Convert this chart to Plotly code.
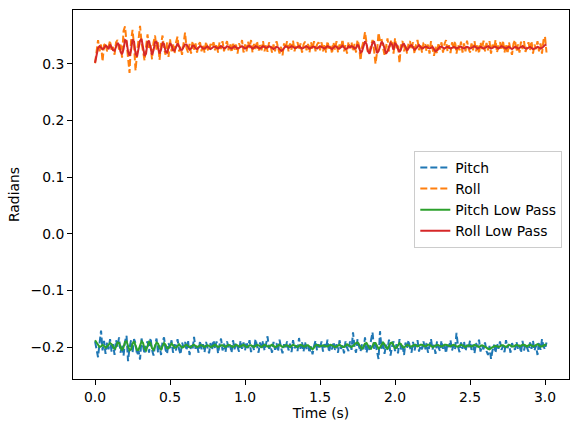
import numpy as np
import plotly.graph_objects as go

# sample period of the logged IMU data (s)
DT = 0.01

# all angles below in milliradians
pitch_raw = [
    -190, -205, -218, -193, -171, -206, -189, -212, -192, -204,
    -186, -208, -195, -214, -188, -199, -183, -210, -196, -215,
    -190, -180, -225, -201, -188, -210, -186, -193, -214, -207,
    -222, -185, -200, -212, -195, -190, -210, -184, -205, -215,
    -198, -185, -210, -197, -214, -190, -183, -205, -212, -193,
    -202, -188, -210, -195, -206, -186, -204, -213, -192, -200,
    -191, -206, -188, -214, -197, -205, -182, -203, -196, -210,
    -189, -204, -195, -209, -191, -200, -211, -193, -205, -188,
    -203, -190, -211, -196, -185, -206, -194, -209, -190, -202,
    -196, -210, -188, -204, -193, -200, -208, -189, -203, -192,
    -206, -191, -202, -188, -209, -197, -205, -186, -201, -210,
    -192, -204, -189, -206, -195, -181, -203, -198, -210, -191,
    -205, -193, -208, -187, -201, -211, -195, -203, -190, -206,
    -194, -209, -188, -202, -197, -207, -184, -203, -192, -208,
    -191, -204, -197, -210, -199, -213, -198, -189, -206, -195,
    -203, -190, -208, -195, -202, -187, -209, -196, -204, -191,
    -205, -195, -210, -188, -203, -197, -211, -190, -201, -207,
    -190, -205, -174, -200, -210, -186, -199, -208, -195, -204,
    -183, -210, -197, -205, -188, -174, -203, -195, -208, -221,
    -172, -203, -190, -212, -196, -204, -187, -215, -199, -190,
    -207, -195, -211, -186, -204, -197, -214, -192, -203, -188,
    -201, -210, -191, -206, -195, -188, -208, -197, -204, -190,
    -205, -193, -210, -198, -186, -204, -196, -212, -190, -201,
    -207, -189, -203, -196, -211, -193, -200, -188, -206, -197,
    -204, -175, -199, -209, -192, -203, -190, -207, -196, -202,
    -189, -205, -196, -211, -193, -200, -187, -208, -197, -204,
    -192, -207, -214, -198, -221, -206, -196, -210, -193, -203,
    -190, -205, -198, -209, -188, -202, -195, -210, -193, -200,
    -205, -191, -203, -196, -210, -189, -206, -194, -201, -208,
    -192, -203, -189, -206, -197, -214, -191, -205, -186, -199,
    -204, -192,
]

roll_raw = [
    301, 325, 342, 322, 334, 304, 333, 337, 322, 330,
    341, 322, 330, 316, 338, 342, 325, 334, 311, 358,
    366, 338, 310, 284, 340, 360, 332, 288, 318, 345,
    367, 338, 318, 306, 330, 352, 326, 333, 308, 338,
    350, 325, 338, 307, 335, 350, 327, 316, 338, 312,
    344, 322, 335, 318, 338, 348, 322, 330, 316, 340,
    355, 328, 320, 335, 318, 340, 325, 336, 320, 334,
    338, 322, 334, 320, 339, 326, 322, 335, 330, 338,
    324, 335, 320, 338, 326, 340, 322, 333, 340, 324,
    336, 320, 338, 325, 334, 318, 336, 329, 342, 320,
    334, 322, 339, 328, 342, 320, 335, 326, 340, 322,
    333, 324, 340, 322, 335, 321, 338, 332, 320, 334,
    322, 340, 326, 318, 330, 315, 336, 326, 340, 322,
    336, 325, 341, 322, 333, 338, 324, 336, 320, 334,
    339, 324, 335, 320, 338, 326, 340, 322, 334, 338,
    324, 338, 322, 335, 320, 340, 327, 333, 318, 338,
    325, 340, 320, 334, 327, 343, 322, 333, 318, 339,
    328, 338, 322, 335, 320, 342, 332, 306, 330, 340,
    356, 333, 318, 322, 335, 342, 325, 300, 320, 355,
    340, 344, 328, 316, 330, 345, 322, 338, 342, 318,
    345, 327, 332, 301, 336, 340, 322, 334, 318, 336,
    340, 325, 338, 318, 334, 342, 324, 335, 320, 337,
    338, 322, 334, 318, 340, 326, 314, 330, 318, 337,
    325, 338, 320, 335, 342, 322, 333, 319, 338, 326,
    340, 318, 334, 324, 339, 320, 336, 322, 341, 327,
    320, 336, 324, 340, 322, 335, 318, 338, 326, 341,
    322, 337, 324, 340, 318, 334, 326, 342, 320, 333,
    338, 324, 341, 320, 335, 318, 338, 325, 316, 336,
    342, 322, 334, 320, 339, 326, 340, 321, 331, 338,
    324, 340, 318, 334, 326, 340, 322, 336, 318, 342,
    348, 320,
]

pitch_lp = [
    -188, -192, -197, -200, -199, -196, -198, -201, -199, -196,
    -193, -195, -201, -204, -199, -192, -193, -201, -206, -200,
    -191, -190, -199, -206, -204, -194, -190, -196, -205, -205,
    -196, -190, -193, -203, -206, -199, -191, -193, -202, -205,
    -199, -192, -194, -201, -204, -198, -193, -196, -202, -202,
    -197, -194, -197, -201, -201, -197, -195, -198, -201, -200,
    -197, -196, -198, -200, -200, -197, -196, -198, -200, -199,
    -197, -197, -199, -200, -198, -197, -198, -200, -199, -197,
    -196, -198, -200, -199, -197, -197, -199, -200, -198, -196,
    -197, -199, -200, -198, -196, -197, -199, -199, -197, -196,
    -198, -200, -199, -197, -197, -199, -200, -198, -196, -197,
    -199, -200, -198, -196, -197, -199, -199, -197, -196, -198,
    -200, -199, -197, -196, -198, -200, -199, -197, -197, -199,
    -200, -198, -196, -197, -199, -200, -198, -196, -197, -199,
    -199, -197, -197, -200, -202, -204, -201, -197, -196, -198,
    -199, -198, -197, -198, -199, -199, -197, -196, -197, -199,
    -200, -199, -197, -196, -198, -200, -200, -197, -195, -197,
    -199, -200, -198, -195, -193, -192, -196, -201, -203, -199,
    -194, -193, -197, -202, -203, -198, -193, -193, -199, -203,
    -201, -195, -192, -195, -201, -203, -199, -193, -192, -197,
    -202, -201, -196, -193, -195, -200, -201, -198, -196, -197,
    -199, -199, -197, -196, -197, -199, -198, -196, -196, -198,
    -199, -198, -196, -196, -198, -200, -199, -197, -196, -197,
    -198, -199, -198, -196, -196, -197, -199, -199, -197, -196,
    -197, -199, -199, -197, -196, -197, -199, -200, -198, -197,
    -198, -199, -198, -196, -197, -199, -200, -198, -197, -198,
    -199, -201, -203, -204, -202, -200, -199, -198, -199, -200,
    -199, -197, -197, -199, -200, -198, -196, -197, -199, -199,
    -197, -196, -197, -199, -198, -196, -196, -198, -199, -197,
    -196, -197, -199, -198, -196, -195, -197, -199, -199, -197,
    -196, -196,
]

roll_lp = [
    302, 318, 328, 331, 329, 326, 328, 332, 330, 326,
    334, 330, 324, 323, 329, 337, 333, 321, 317, 326,
    342, 340, 322, 314, 324, 343, 339, 318, 313, 326,
    341, 344, 328, 314, 318, 338, 341, 325, 316, 324,
    338, 339, 326, 318, 325, 337, 335, 322, 320, 329,
    336, 333, 324, 323, 330, 336, 331, 325, 325, 330,
    334, 334, 328, 325, 327, 332, 332, 327, 326, 329,
    331, 330, 327, 327, 330, 331, 328, 326, 328, 330,
    330, 328, 327, 329, 331, 330, 327, 328, 331, 330,
    328, 327, 329, 331, 329, 327, 328, 330, 331, 329,
    327, 328, 331, 332, 329, 327, 328, 331, 330, 328,
    327, 329, 331, 330, 328, 329, 331, 330, 327, 326,
    328, 330, 329, 326, 323, 324, 328, 331, 330, 328,
    329, 331, 330, 328, 328, 330, 331, 329, 327, 328,
    330, 331, 329, 327, 328, 330, 330, 328, 327, 329,
    331, 330, 328, 327, 329, 331, 330, 327, 326, 329,
    331, 330, 327, 327, 330, 332, 329, 326, 327, 331,
    329, 331, 330, 327, 328, 334, 330, 320, 322, 333,
    340, 335, 322, 318, 326, 337, 340, 330, 319, 322,
    333, 339, 336, 324, 318, 322, 332, 337, 334, 325,
    336, 334, 326, 321, 326, 334, 335, 328, 324, 327,
    332, 333, 329, 325, 327, 331, 333, 330, 327, 328,
    330, 330, 328, 327, 328, 330, 326, 322, 324, 328,
    330, 330, 328, 327, 329, 330, 329, 327, 328, 330,
    329, 327, 328, 330, 330, 328, 327, 329, 330, 329,
    327, 328, 330, 331, 329, 327, 328, 330, 329, 327,
    328, 330, 331, 329, 327, 328, 330, 330, 328, 327,
    329, 331, 330, 328, 327, 329, 330, 328, 326, 328,
    330, 329, 327, 328, 330, 331, 329, 327, 327, 329,
    330, 328, 326, 327, 329, 330, 329, 327, 328, 331,
    333, 334,
]

assert len(pitch_raw) == len(roll_raw) == len(pitch_lp) == len(roll_lp)

t = np.arange(len(pitch_raw)) * DT

FONT = dict(family="DejaVu Sans", size=13.9, color="black")

fig = go.Figure()
series = [
    ("Pitch", pitch_raw, "#1f77b4", "7px,3px"),
    ("Roll", roll_raw, "#ff7f0e", "7px,3px"),
    ("Pitch Low Pass", pitch_lp, "#2ca02c", "solid"),
    ("Roll Low Pass", roll_lp, "#d62728", "solid"),
]
for name, vals, color, dash in series:
    fig.add_trace(go.Scatter(
        x=t,
        y=np.array(vals) / 1000.0,
        mode="lines",
        name=name,
        line=dict(color=color, width=2, dash=dash),
    ))

axis_style = dict(
    showgrid=False,
    zeroline=False,
    showline=True,
    linecolor="black",
    linewidth=1,
    mirror=True,
    ticks="outside",
    ticklen=5,
    tickwidth=1,
    tickcolor="black",
    tickfont=FONT,
    tickformat=".1f",
)

fig.update_layout(
    width=578,
    height=432,
    margin=dict(l=73, r=9, t=10, b=53),
    paper_bgcolor="white",
    plot_bgcolor="white",
    font=FONT,
    xaxis=dict(
        range=[-0.147, 3.16],
        tickvals=[0.0, 0.5, 1.0, 1.5, 2.0, 2.5, 3.0],
        title=dict(text="Time (s)", font=FONT, standoff=4),
        **axis_style,
    ),
    yaxis=dict(
        range=[-0.2564, 0.395],
        tickvals=[-0.2, -0.1, 0.0, 0.1, 0.2, 0.3],
        title=dict(text="Radians", font=FONT, standoff=7),
        **axis_style,
    ),
    legend=dict(
        x=0.9865,
        y=0.618,
        xanchor="right",
        yanchor="top",
        bgcolor="rgba(255,255,255,0.8)",
        bordercolor="#cccccc",
        borderwidth=1,
        font=FONT,
        tracegroupgap=0,
    ),
    showlegend=True,
)

# drop the browser's default 8px body margin so the figure sits at (0, 0)
fig.write_html(
    "out.html",
    config={"displayModeBar": False},
    post_script="document.body.style.margin='0';",
)
